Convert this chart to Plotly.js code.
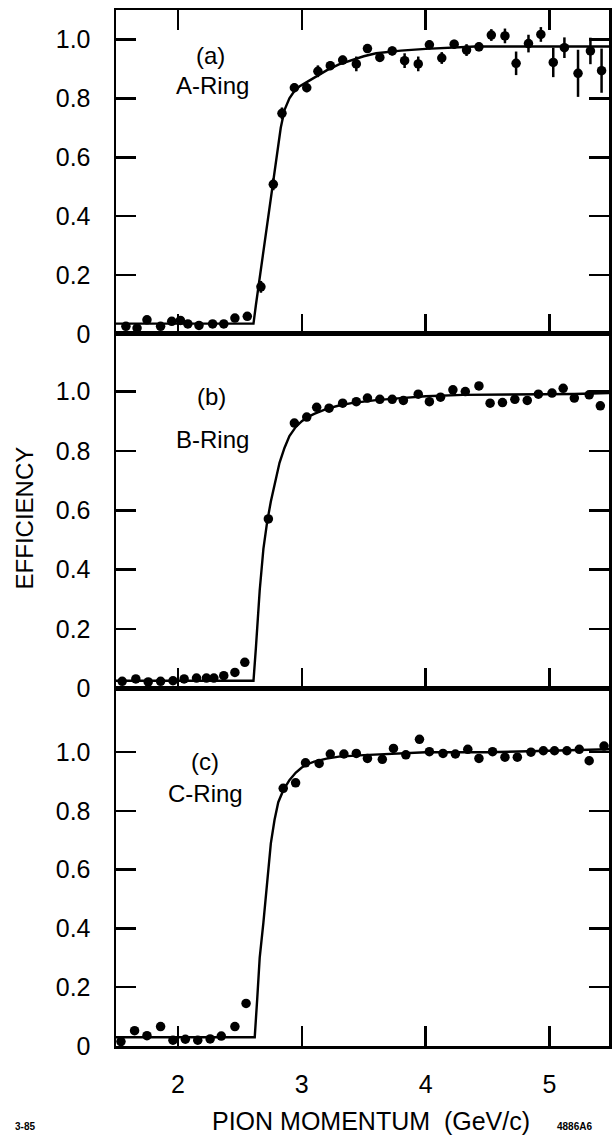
<!DOCTYPE html>
<html>
<head>
<meta charset="utf-8">
<script src="https://cdn.plot.ly/plotly-3.0.1.min.js"></script>
<style>
  html, body { margin: 0; padding: 0; background: #fff; }
  #chart { width: 613px; height: 1138px; }
</style>
</head>
<body>
<div id="chart"></div>
<script>
// Pion momentum (GeV/c) and measured efficiency for the three Cherenkov rings.

// (a) A-Ring
const aMomentum = [1.58, 1.67, 1.75, 1.86, 1.95, 2.02, 2.08, 2.17, 2.28, 2.37, 2.46, 2.56,
  2.67, 2.77, 2.84, 2.94, 3.04, 3.13, 3.23, 3.33, 3.44, 3.53, 3.63, 3.73, 3.83, 3.94,
  4.03, 4.13, 4.23, 4.33, 4.43, 4.53, 4.64, 4.73, 4.83, 4.93, 5.03, 5.12, 5.23, 5.33, 5.42];
const aEfficiency = [0.026, 0.020, 0.048, 0.026, 0.043, 0.046, 0.034, 0.029, 0.034, 0.034, 0.054, 0.060,
  0.160, 0.508, 0.749, 0.836, 0.836, 0.892, 0.911, 0.930, 0.917, 0.969, 0.939, 0.961, 0.928, 0.917,
  0.982, 0.937, 0.984, 0.964, 0.975, 1.015, 1.012, 0.919, 0.986, 1.017, 0.922, 0.972, 0.885, 0.961, 0.894];
const aError = [0.01, 0.01, 0.01, 0.01, 0.01, 0.01, 0.01, 0.01, 0.01, 0.01, 0.01, 0.01,
  0.02, 0.02, 0.02, 0.015, 0.015, 0.02, 0.015, 0.015, 0.025, 0.015, 0.015, 0.015, 0.025, 0.025,
  0.015, 0.02, 0.015, 0.02, 0.015, 0.02, 0.025, 0.04, 0.03, 0.025, 0.05, 0.035, 0.08, 0.045, 0.075];
const aFitMomentum = [1.5, 2.61, 2.63, 2.66, 2.70, 2.73, 2.77, 2.80, 2.83, 2.86, 2.90, 2.94, 2.98,
  3.04, 3.1, 3.2, 3.3, 3.4, 3.5, 3.6, 3.7, 3.8, 4.0, 4.2, 4.4, 5.48];
const aFitEfficiency = [0.035, 0.035, 0.10, 0.19, 0.31, 0.40, 0.51, 0.61, 0.70, 0.76, 0.80, 0.825, 0.84,
  0.855, 0.87, 0.895, 0.915, 0.93, 0.943, 0.953, 0.958, 0.962, 0.968, 0.973, 0.976, 0.976];

// (b) B-Ring
const bMomentum = [1.55, 1.66, 1.76, 1.86, 1.96, 2.05, 2.15, 2.23, 2.29, 2.37, 2.46, 2.54,
  2.73, 2.94, 3.04, 3.12, 3.22, 3.33, 3.44, 3.53, 3.63, 3.73, 3.82, 3.94, 4.03, 4.12,
  4.22, 4.32, 4.43, 4.52, 4.62, 4.72, 4.82, 4.91, 5.02, 5.11, 5.20, 5.32, 5.41];
const bEfficiency = [0.024, 0.032, 0.022, 0.024, 0.026, 0.032, 0.035, 0.035, 0.035, 0.043, 0.054, 0.088,
  0.571, 0.894, 0.914, 0.947, 0.944, 0.961, 0.966, 0.978, 0.974, 0.974, 0.970, 0.991, 0.966, 0.981,
  1.006, 1.000, 1.019, 0.961, 0.963, 0.974, 0.970, 0.991, 0.995, 1.011, 0.978, 0.989, 0.952];
const bFitMomentum = [1.5, 2.61, 2.63, 2.66, 2.69, 2.72, 2.75, 2.78, 2.82, 2.86, 2.90, 2.95, 3.0,
  3.05, 3.1, 3.2, 3.3, 3.4, 3.6, 3.8, 4.0, 4.3, 4.8, 5.2, 5.48];
const bFitEfficiency = [0.026, 0.026, 0.14, 0.33, 0.47, 0.56, 0.63, 0.69, 0.76, 0.81, 0.85, 0.88, 0.90,
  0.915, 0.925, 0.942, 0.953, 0.961, 0.971, 0.978, 0.984, 0.989, 0.990, 0.992, 0.995];

// (c) C-Ring
const cMomentum = [1.54, 1.65, 1.75, 1.86, 1.96, 2.06, 2.16, 2.26, 2.35, 2.46, 2.55,
  2.85, 2.95, 3.03, 3.14, 3.23, 3.34, 3.44, 3.53, 3.65, 3.74, 3.84, 3.95, 4.03, 4.14,
  4.24, 4.34, 4.43, 4.54, 4.64, 4.74, 4.85, 4.95, 5.04, 5.14, 5.24, 5.32, 5.44];
const cEfficiency = [0.015, 0.052, 0.035, 0.066, 0.020, 0.023, 0.020, 0.024, 0.034, 0.066, 0.145,
  0.877, 0.896, 0.964, 0.962, 0.994, 0.994, 0.996, 0.979, 0.976, 1.013, 0.991, 1.044, 1.002, 0.996,
  0.994, 1.010, 0.979, 1.002, 0.983, 0.983, 1.000, 1.005, 1.005, 1.005, 1.010, 0.971, 1.021];
const cFitMomentum = [1.5, 2.62, 2.64, 2.66, 2.69, 2.72, 2.75, 2.78, 2.81, 2.85, 2.90, 2.95, 3.0,
  3.05, 3.1, 3.2, 3.3, 3.5, 3.8, 4.0, 4.5, 5.0, 5.48];
const cFitEfficiency = [0.03, 0.03, 0.16, 0.30, 0.42, 0.57, 0.69, 0.77, 0.83, 0.87, 0.905, 0.93, 0.948,
  0.96, 0.968, 0.978, 0.985, 0.99, 0.995, 1.0, 1.0, 1.005, 1.01];

// Axis ticks
const xTickValues = [2, 3, 4, 5];
const xTickLabels = ['2', '3', '4', '5'];
const yTickValues = [0, 0.2, 0.4, 0.6, 0.8, 1.0];
const yTickLabels = ['0', '0.2', '0.4', '0.6', '0.8', '1.0'];

// Panel labels
const panelTags = ['(a)', '(b)', '(c)'];
const ringNames = ['A-Ring', 'B-Ring', 'C-Ring'];

const FONT = 'Liberation Sans, Arial, sans-serif';
const INK = '#000';

function points(x, y, err, xa, ya) {
  const t = {
    x: x, y: y, xaxis: xa, yaxis: ya, type: 'scatter', mode: 'markers',
    marker: { color: INK, size: 9.5 }, showlegend: false, hoverinfo: 'x+y'
  };
  if (err) {
    t.error_y = { type: 'data', array: err, visible: true, color: INK, thickness: 2.5, width: 0 };
  }
  return t;
}
function fit(x, y, xa, ya) {
  return {
    x: x, y: y, xaxis: xa, yaxis: ya, type: 'scatter', mode: 'lines',
    line: { color: INK, width: 2.4, shape: 'linear' }, showlegend: false, hoverinfo: 'skip'
  };
}

const data = [
  fit(aFitMomentum, aFitEfficiency, 'x', 'y'),
  points(aMomentum, aEfficiency, aError, 'x', 'y'),
  fit(bFitMomentum, bFitEfficiency, 'x2', 'y2'),
  points(bMomentum, bEfficiency, null, 'x2', 'y2'),
  fit(cFitMomentum, cFitEfficiency, 'x3', 'y3'),
  points(cMomentum, cEfficiency, null, 'x3', 'y3')
];

function xAxis(anchor, showLabels, mirror) {
  return {
    anchor: anchor, range: [1.5, 5.48], domain: [0, 1],
    tickmode: 'array', tickvals: xTickValues, ticktext: xTickLabels, showticklabels: showLabels,
    ticks: 'inside', ticklen: 20, tickwidth: 2.5, tickcolor: INK,
    showline: true, linewidth: 2.5, linecolor: INK, mirror: mirror,
    showgrid: false, zeroline: false, ticklabelstandoff: 14,
    tickfont: { family: FONT, size: 25, color: INK }
  };
}
function yAxis(anchor, domain, top) {
  return {
    anchor: anchor, domain: domain, range: [0, top],
    tickmode: 'array', tickvals: yTickValues, ticktext: yTickLabels,
    ticks: 'inside', ticklen: 20, tickwidth: 2.5, tickcolor: INK,
    showline: true, linewidth: 2.5, linecolor: INK, mirror: 'ticks',
    showgrid: false, zeroline: false, ticklabelstandoff: 18,
    tickfont: { family: FONT, size: 25, color: INK }
  };
}

const textFont = { family: FONT, size: 24, color: INK };
const annotations = [
  { xref: 'x', yref: 'y', x: 2.26, y: 0.947, text: panelTags[0] },
  { xref: 'x', yref: 'y', x: 2.275, y: 0.842, text: ringNames[0] },
  { xref: 'x2', yref: 'y2', x: 2.267, y: 0.982, text: panelTags[1] },
  { xref: 'x2', yref: 'y2', x: 2.275, y: 0.840, text: ringNames[1] },
  { xref: 'x3', yref: 'y3', x: 2.22, y: 0.970, text: panelTags[2] },
  { xref: 'x3', yref: 'y3', x: 2.22, y: 0.861, text: ringNames[2] }
].map(a => Object.assign(a, { showarrow: false, font: textFont, xanchor: 'center', yanchor: 'middle' }));

annotations.push(
  { xref: 'paper', yref: 'paper', x: 0.517, y: -0.0724, text: 'PION MOMENTUM \u00a0(GeV/c)',
    showarrow: false, font: { family: FONT, size: 25, color: INK }, xanchor: 'center', yanchor: 'middle' },
  { xref: 'paper', yref: 'paper', x: -0.185, y: 0.51, text: 'EFFICIENCY', textangle: -90,
    showarrow: false, font: { family: FONT, size: 24, color: INK }, xanchor: 'center', yanchor: 'middle' },
  { xref: 'paper', yref: 'paper', x: -0.185, y: -0.078, text: '<b>3-85</b>',
    showarrow: false, font: { family: FONT, size: 10, color: INK }, xanchor: 'center', yanchor: 'middle' },
  { xref: 'paper', yref: 'paper', x: 0.89, y: -0.078, text: '<b>4886A6</b>',
    showarrow: false, font: { family: FONT, size: 10, color: INK }, xanchor: 'left', yanchor: 'middle' }
);

const layout = {
  width: 613, height: 1138,
  margin: { l: 116, r: 4, t: 10, b: 92, pad: 0 },
  paper_bgcolor: '#fff', plot_bgcolor: '#fff',
  showlegend: false,
  xaxis: xAxis('y', false, 'ticks'),
  xaxis2: xAxis('y2', false, true),
  xaxis3: xAxis('y3', true, true),
  yaxis: yAxis('x', [0.6873, 1], 1.1),
  yaxis2: yAxis('x2', [0.3451, 0.6873], 1.194),
  yaxis3: yAxis('x3', [0, 0.3451], 1.217),
  annotations: annotations
};

Plotly.newPlot('chart', data, layout, { staticPlot: true, displayModeBar: false });
</script>
</body>
</html>
